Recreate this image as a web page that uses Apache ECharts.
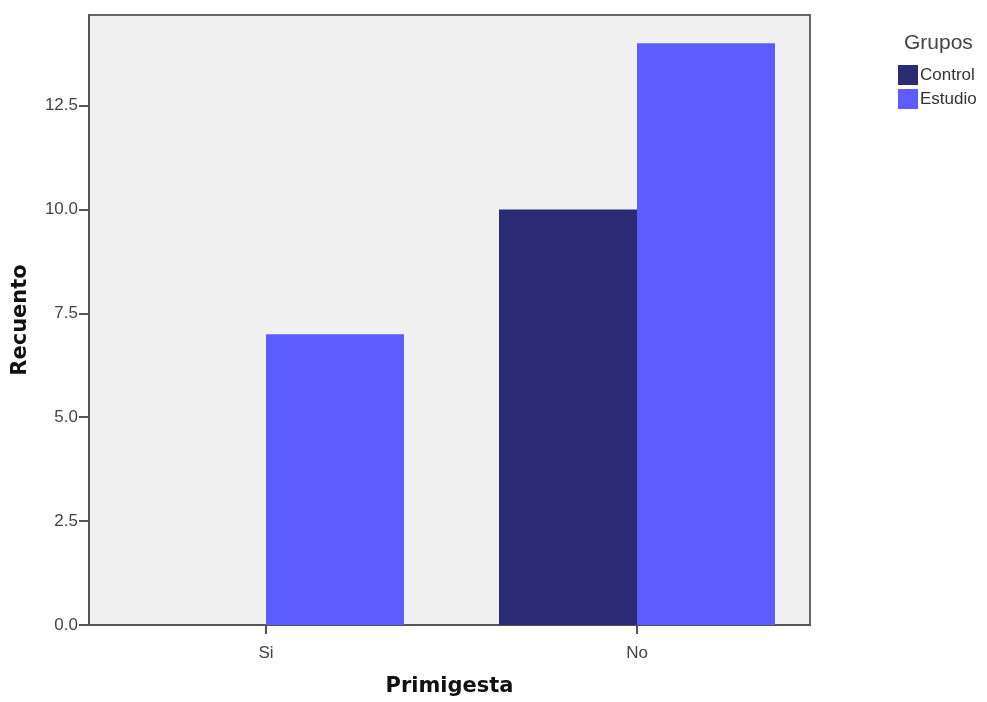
<!DOCTYPE html>
<html>
<head>
<meta charset="utf-8">
<script src="https://cdn.jsdelivr.net/npm/echarts@6/dist/echarts.min.js"></script>
<style>html,body{margin:0;padding:0;background:#fff;}#c{width:987px;height:702px;}</style>
</head>
<body>
<div id="c"></div>
<script>
var categories = ['Si', 'No'];
var controlValues = [0, 10];
var estudioValues = [7, 14];
var yTicks = [0, 2.5, 5, 7.5, 10, 12.5];

function toPoints(vals) {
  return vals.map(function (v, i) { return [i + 1, v]; });
}
var chart = echarts.init(document.getElementById('c'));
chart.setOption({
  animation: false,
  backgroundColor: '#ffffff',
  textStyle: { fontFamily: 'Liberation Sans, Arial, sans-serif' },
  title: {
    text: 'Grupos', left: 899, top: 28,
    textStyle: { fontSize: 21, fontWeight: 'normal', color: '#444', fontFamily: 'Liberation Sans' }
  },
  legend: {
    orient: 'vertical', left: 893, top: 60,
    itemWidth: 20, itemHeight: 20, itemGap: 4, icon: 'rect',
    textStyle: { fontSize: 17, color: '#333', padding: [0, 0, 0, -3] },
    data: ['Control', 'Estudio']
  },
  grid: {
    left: 89, right: 177, top: 15, bottom: 75,
    show: true, backgroundColor: '#f0f0f0', borderColor: '#666', borderWidth: 2
  },
  xAxis: {
    type: 'value', min: 0.5229, max: 2.4663,
    name: 'Primigesta', nameLocation: 'middle', nameGap: 51,
    nameTextStyle: { fontSize: 21, fontWeight: 'bold', color: '#111', fontFamily: 'DejaVu Sans' },
    axisLine: { show: true, lineStyle: { color: '#555', width: 2 } },
    axisTick: { show: true, customValues: [1, 2], length: 9, lineStyle: { color: '#555', width: 2 } },
    axisLabel: {
      customValues: [1, 2], fontSize: 17, color: '#444', margin: 20,
      formatter: function (v) { return categories[Math.round(v) - 1]; }
    },
    splitLine: { show: false }
  },
  yAxis: {
    type: 'value', min: 0, max: 14.68,
    name: 'Recuento', nameLocation: 'middle', nameGap: 58,
    nameTextStyle: { fontSize: 21, fontWeight: 'bold', color: '#111', fontFamily: 'DejaVu Sans' },
    axisLine: { show: true, lineStyle: { color: '#555', width: 2 } },
    axisTick: { show: true, customValues: yTicks, length: 10, lineStyle: { color: '#555', width: 2 } },
    axisLabel: {
      fontSize: 17, color: '#444', margin: 11,
      customValues: yTicks,
      formatter: function (v) { return v.toFixed(1); }
    },
    splitLine: { show: false }
  },
  series: [
    {
      name: 'Control', type: 'bar', barWidth: 138, barGap: '0%',
      itemStyle: { color: '#2b2b73' },
      data: toPoints(controlValues)
    },
    {
      name: 'Estudio', type: 'bar', barWidth: 138, barGap: '0%',
      itemStyle: { color: '#5c5cff' },
      data: toPoints(estudioValues)
    }
  ]
});
</script>
</body>
</html>
